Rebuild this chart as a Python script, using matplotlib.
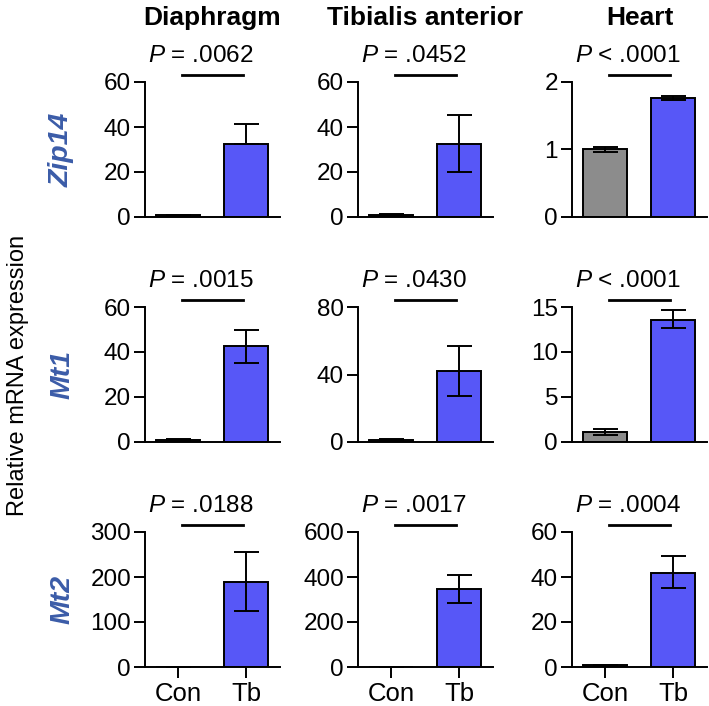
import numpy as np
import matplotlib
matplotlib.use("Agg")
import matplotlib.pyplot as plt

plt.rcParams['font.family'] = ['Liberation Sans', 'DejaVu Sans']
plt.rcParams['mathtext.fontset'] = 'custom'
plt.rcParams['mathtext.it'] = 'Liberation Sans:italic'
plt.rcParams['mathtext.rm'] = 'Liberation Sans'

# data: rows = genes, columns = tissues
tissues = ["Diaphragm", "Tibialis anterior", "Heart"]
genes = ["Zip14", "Mt1", "Mt2"]
groups = ["Con", "Tb"]

con_mean = [[0.9, 0.9, 1.0],
            [1.0, 1.0, 1.1],
            [0.8, 1.0, 0.8]]
con_err = [[0.2, 0.3, 0.04],
            [0.5, 0.5, 0.3],
            [0.3, 1.0, 0.2]]
tb_mean = [[32.5, 32.5, 1.76],
           [42.5, 42.0, 13.6],
           [190.0, 347.0, 42.0]]
tb_err_lo = [[0.0, 12.5, 0.03],
             [7.5, 14.5, 0.9],
             [65.0, 62.0, 7.0]]
tb_err_hi = [[9.0, 13.0, 0.03],
             [7.5, 15.0, 1.1],
             [65.0, 63.0, 7.5]]
y_max = [[60, 60, 2],
         [60, 80, 15],
         [300, 600, 60]]
y_step = [[20, 20, 1],
          [20, 40, 5],
          [100, 200, 20]]
p_sign = [["=", "=", "<"],
          ["=", "=", "<"],
          ["=", "=", "="]]
p_value = [[".0062", ".0452", ".0001"],
           [".0015", ".0430", ".0001"],
           [".0188", ".0017", ".0004"]]

con_color = "#8c8c8c"
tb_color = "#5757f7"
gene_color = "#3b5ca8"

W, H = 709, 706
fig = plt.figure(figsize=(W / 100, H / 100), dpi=100)

col_left = [145, 358, 572]
row_top = [82, 307, 532]
aw, ah = 135, 135
lw = 1.4

for r in range(3):
    for c in range(3):
        ax = fig.add_axes([col_left[c] / W, 1 - (row_top[r] + ah) / H, aw / W, ah / H])
        ax.bar([0, 1], [con_mean[r][c], tb_mean[r][c]], width=0.65,
               color=[con_color, tb_color], edgecolor="black", linewidth=lw, zorder=2)
        ax.errorbar([0], [con_mean[r][c]], yerr=[[con_err[r][c]], [con_err[r][c]]],
                    fmt="none", ecolor="black", elinewidth=lw, capsize=9, capthick=lw, zorder=3)
        ax.errorbar([1], [tb_mean[r][c]], yerr=[[tb_err_lo[r][c]], [tb_err_hi[r][c]]],
                    fmt="none", ecolor="black", elinewidth=lw, capsize=9, capthick=lw, zorder=3)
        ax.set_xlim(-0.485, 1.5)
        ax.set_ylim(0, y_max[r][c])
        ax.set_yticks(np.arange(0, y_max[r][c] + 0.001, y_step[r][c]))
        ax.spines[["top", "right"]].set_visible(False)
        ax.spines[["left", "bottom"]].set_linewidth(lw)
        ax.tick_params(axis="y", length=8, width=lw, labelsize=17.5, pad=2)
        if r == 2:
            ax.set_xticks([0, 1])
            ax.set_xticklabels(groups)
            ax.tick_params(axis="x", length=8, width=lw, labelsize=18.5, pad=3)
        else:
            ax.set_xticks([])
        # significance line and P value
        trans = ax.get_xaxis_transform()
        ax.plot([0.06, 0.96], [1.05, 1.05], color="black", lw=2,
                transform=trans, clip_on=False)
        label = r"$\mathit{P}$ " + p_sign[r][c] + " " + p_value[r][c]
        ax.text(0.33, 1.11, label, transform=trans,
                ha="center", va="bottom", fontsize=17.5)
        if r == 0:
            fig.text((col_left[c] + aw / 2) / W, 1 - 18 / H, tissues[c],
                     ha="center", va="center", fontsize=19, fontweight="bold")

for r in range(3):
    fig.text(62 / W, 1 - (row_top[r] + ah / 2) / H, genes[r], rotation=90,
             ha="center", va="center", fontsize=20.5, fontweight="bold",
             style="italic", color=gene_color)

fig.text(18 / W, 1 - 375 / H, "Relative mRNA expression", rotation=90,
         ha="center", va="center", fontsize=17)

fig.savefig("out.png", dpi=100)
